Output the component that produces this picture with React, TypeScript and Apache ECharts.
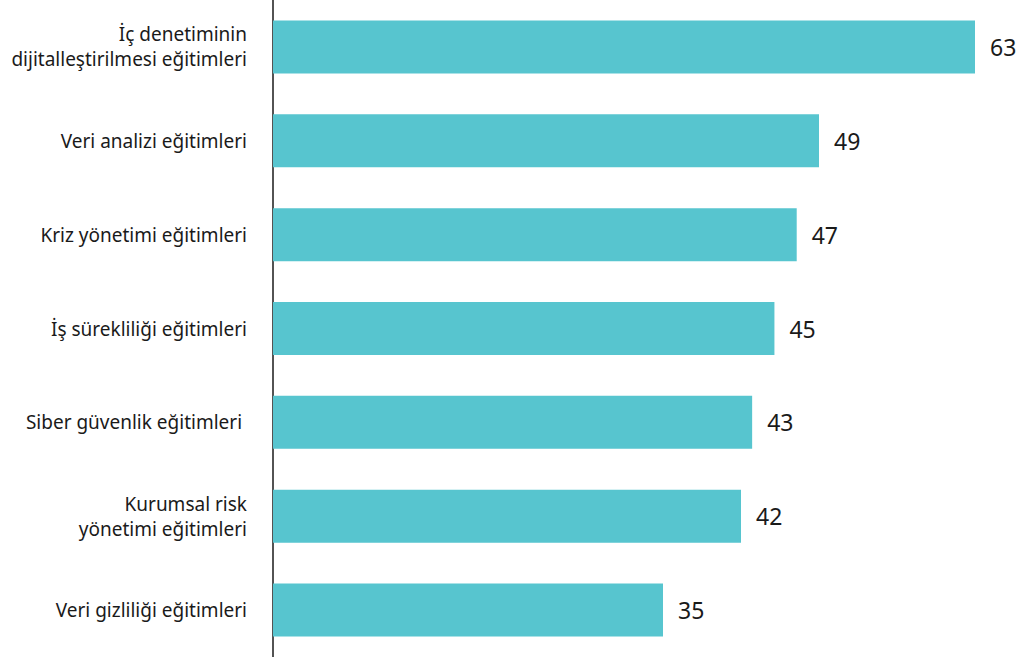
import React, { useEffect, useRef } from "react";
import * as echarts from "echarts";

const categories = [
  "İç denetiminin\ndijitalleştirilmesi eğitimleri",
  "Veri analizi eğitimleri",
  "Kriz yönetimi eğitimleri",
  "İş sürekliliği eğitimleri",
  "Siber güvenlik eğitimleri ",
  "Kurumsal risk\nyönetimi eğitimleri",
  "Veri gizliliği eğitimleri",
];
const values = [63, 49, 47, 45, 43, 42, 35];

export default function App() {
  const ref = useRef<HTMLDivElement>(null);
  useEffect(() => {
    if (!ref.current) return;
    const chart = echarts.init(ref.current, undefined, { renderer: "svg" });
    chart.setOption({
      animation: false,
      grid: { left: 273, right: 43, top: 0, bottom: 0, containLabel: false },
      xAxis: {
        type: "value",
        min: 0,
        max: 63,
        show: false,
      },
      yAxis: {
        type: "category",
        data: categories,
        inverse: true,
        axisLine: { show: true, lineStyle: { color: "#1a1a1a", width: 1.5 } },
        axisTick: { show: false },
        axisLabel: {
          margin: 26,
          fontSize: 19,
          lineHeight: 25,
          color: "#1a1a1a",
          fontFamily: "Noto Sans",
          align: "right",
        },
      },
      series: [
        {
          type: "bar",
          data: values,
          barWidth: 53,
          itemStyle: { color: "#57C5CF" },
          label: {
            show: true,
            position: "right",
            distance: 15,
            fontSize: 23,
            color: "#1a1a1a",
            fontFamily: "Noto Sans",
          },
        },
      ],
    });
    return () => chart.dispose();
  }, []);
  return (
    <div
      ref={ref}
      style={{ position: "fixed", left: 0, top: 0, width: 1018, height: 657, background: "#fff" }}
    />
  );
}
